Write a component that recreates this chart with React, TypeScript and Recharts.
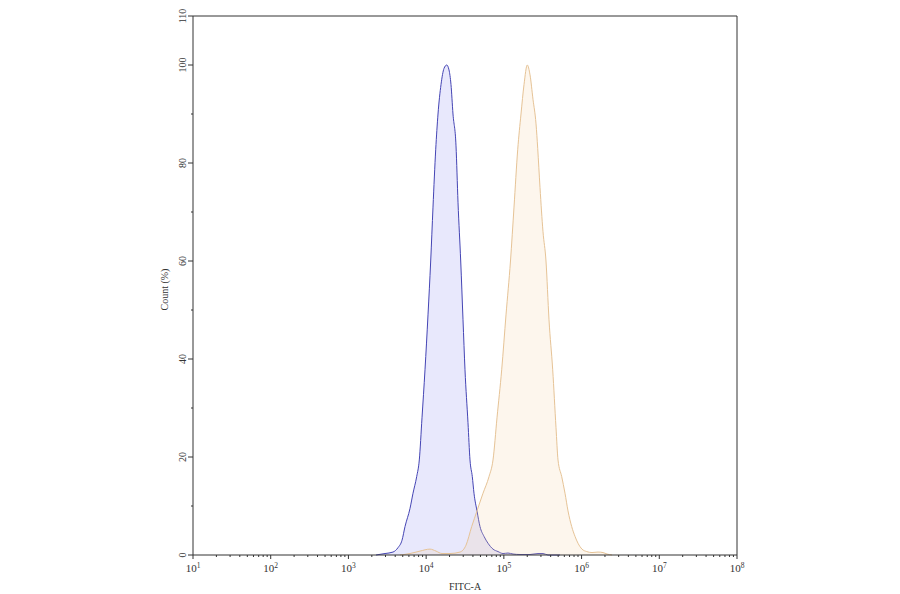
import React from 'react';
import { ComposedChart, Area, XAxis, YAxis, ReferenceLine } from 'recharts';

// FITC-A intensity vs. count (%)
const controlFitc = [
  2265, 2957, 3748, 4345, 4890, 5346, 6199, 6776, 7558, 8166, 8845, 9668, 10566, 11446, 12253,
  13274, 14214, 15536, 16980, 18390, 19680, 20880, 22160, 24230, 25700, 27850, 29810, 31620,
  34560, 36670, 39260, 41280, 45120, 49320, 55530, 62520, 72500, 84090, 97500, 113100, 131200,
  161300, 217000, 275000, 318900, 369800, 527800,
];
const controlCount = [
  0, 0.3, 0.6, 1.5, 3, 5.8, 9.5, 12.6, 16, 19.4, 28, 37.8, 49, 60, 71,
  82.7, 90, 96, 99.3, 100, 99, 96, 90, 83.5, 72, 60, 48, 37.8,
  27, 19.4, 16, 12.6, 9, 5.8, 3.8, 2.4, 1.2, 0.7, 0.3, 0.4, 0.2,
  0.1, 0.1, 0.3, 0.3, 0, 0,
];

const stainedFitc = [
  4609, 6199, 8337, 11210, 13390, 15990, 20280, 27280, 32580, 38570, 45120, 53910, 64410, 72500,
  81630, 93800, 106600, 121700, 135100, 150700, 166200, 181700, 200300, 217000, 237100, 259300,
  272600, 291800, 318900, 348500, 381000, 425100, 468800, 497500, 555100, 612100, 669000, 746500,
  823200, 899800, 1013000, 1165000, 1362000, 1627000, 1887000, 2124000, 2463000,
];
const stainedCount = [
  0, 0.3, 0.8, 1.2, 0.8, 0.3, 0.3, 0.6, 2, 5.8, 9, 12.6, 16, 19.4,
  28, 37.8, 49, 60, 71, 82.7, 90, 96, 100, 98, 93, 88,
  83, 75, 66, 60, 48, 37.8, 26, 19.4, 16, 12.6, 9, 5.8,
  3.8, 2.4, 1.2, 0.7, 0.5, 0.6, 0.5, 0.2, 0,
];

const decades = [1, 2, 3, 4, 5, 6, 7, 8];
const yMajor = [0, 20, 40, 60, 80, 100, 110];
const yMinor = [10, 30, 50, 70, 90];

const controlData = controlFitc.map((x, i) => ({ x, y: controlCount[i] }));
const stainedData = stainedFitc.map((x, i) => ({ x, y: stainedCount[i] }));

const xTicks: number[] = [];
decades.forEach((d, i) => {
  xTicks.push(Math.pow(10, d));
  if (i < decades.length - 1) {
    for (let m = 2; m <= 9; m++) xTicks.push(m * Math.pow(10, d));
  }
});
const yTicks = [...yMajor, ...yMinor].sort((a, b) => a - b);

const FONT = '"Liberation Serif", "DejaVu Serif", serif';
const AXIS = '#333';
const TEXT = '#333';

const XTick = (props: any) => {
  const { x, y, payload } = props;
  const v = payload.value;
  const exp = Math.round(Math.log10(v));
  const isMajor = Math.abs(v - Math.pow(10, exp)) < 1e-6 * v;
  if (!isMajor) {
    return <line x1={x} y1={y} x2={x} y2={y + 2} stroke={AXIS} strokeWidth={1} />;
  }
  return (
    <g>
      <line x1={x} y1={y} x2={x} y2={y + 4} stroke={AXIS} strokeWidth={1} />
      <text x={x} y={y + 17} textAnchor="middle" fontFamily={FONT} fontSize={11} fill={TEXT}>
        <tspan>10</tspan>
        <tspan dy={-4} fontSize={7.5}>{exp}</tspan>
      </text>
    </g>
  );
};

const YTick = (props: any) => {
  const { x, y, payload } = props;
  const v = payload.value;
  if (!yMajor.includes(v)) {
    return <line x1={x} y1={y} x2={x - 2} y2={y} stroke={AXIS} strokeWidth={1} />;
  }
  const tx = x - 11;
  return (
    <g>
      <line x1={x} y1={y} x2={x - 5} y2={y} stroke={AXIS} strokeWidth={1} />
      <text
        x={tx}
        y={y}
        textAnchor="middle"
        dominantBaseline="central"
        transform={`rotate(-90, ${tx}, ${y})`}
        fontFamily={FONT}
        fontSize={10}
        fill={TEXT}
      >
        {v}
      </text>
    </g>
  );
};

const YLabel = (props: any) => {
  const { viewBox } = props;
  const lx = viewBox.x + 11;
  const ly = viewBox.y + viewBox.height / 2 + 4;
  return (
    <text
      x={lx}
      y={ly}
      textAnchor="middle"
      dominantBaseline="central"
      transform={`rotate(-90, ${lx}, ${ly})`}
      fontFamily={FONT}
      fontSize={10}
      fill={TEXT}
    >
      Count (%)
    </text>
  );
};

export default function App() {
  return (
    <div style={{ position: 'absolute', left: 0, top: 0, width: 900, height: 594, background: '#fff' }}>
      <ComposedChart width={900} height={594} margin={{ top: 16, right: 163, bottom: 0, left: 153 }}>
        <XAxis
          type="number"
          dataKey="x"
          scale="log"
          domain={[10, 1e8]}
          allowDataOverflow
          ticks={xTicks}
          interval={0}
          tickSize={0}
          tickMargin={0}
          tickLine={false}
          tick={<XTick />}
          height={39}
          stroke={AXIS}
          label={{ value: 'FITC-A', position: 'insideBottom', offset: 4, fontFamily: FONT, fontSize: 10, fill: TEXT }}
        />
        <YAxis
          type="number"
          dataKey="y"
          domain={[0, 110]}
          ticks={yTicks}
          interval={0}
          tickSize={0}
          tickMargin={0}
          tickLine={false}
          tick={<YTick />}
          width={40}
          stroke={AXIS}
          label={<YLabel />}
        />
        <ReferenceLine y={110} stroke={AXIS} strokeWidth={1} />
        <ReferenceLine x={1e8} stroke={AXIS} strokeWidth={1} />
        <Area
          data={controlData}
          dataKey="y"
          type="monotone"
          stroke="#4444b4"
          strokeWidth={1}
          fill="#8a8af2"
          fillOpacity={0.2}
          isAnimationActive={false}
          dot={false}
          activeDot={false}
        />
        <Area
          data={stainedData}
          dataKey="y"
          type="monotone"
          stroke="#e6c396"
          strokeWidth={1}
          fill="#f7d2a6"
          fillOpacity={0.2}
          isAnimationActive={false}
          dot={false}
          activeDot={false}
        />
      </ComposedChart>
    </div>
  );
}
